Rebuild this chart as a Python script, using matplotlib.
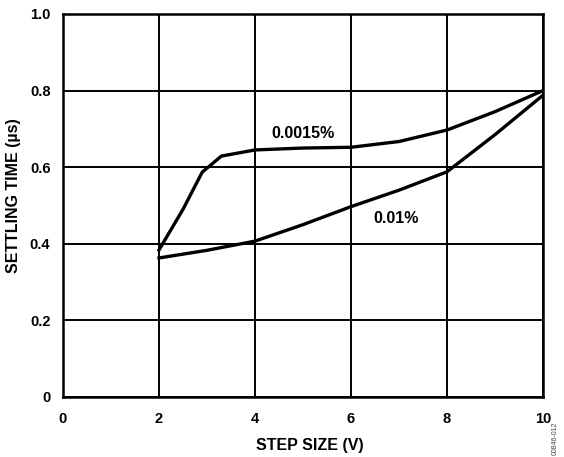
import matplotlib.pyplot as plt
import numpy as np

plt.rcParams['font.family'] = ['Liberation Sans', 'DejaVu Sans']
plt.rcParams['font.weight'] = 'bold'

# 0.0015% curve
x_fine = [2.0, 2.5, 2.9, 3.3, 4.0, 5.0, 6.0, 7.0, 8.0, 9.0, 10.0]
y_fine = [0.384, 0.49, 0.587, 0.629, 0.645, 0.650, 0.652, 0.667, 0.697, 0.745, 0.80]

# 0.01% curve
x_coarse = [2.0, 3.0, 4.0, 5.0, 6.0, 7.0, 8.0, 9.0, 10.0]
y_coarse = [0.363, 0.383, 0.407, 0.450, 0.497, 0.540, 0.588, 0.685, 0.788]

xticks = [0, 2, 4, 6, 8, 10]
yticks = [0, 0.2, 0.4, 0.6, 0.8, 1.0]

fig = plt.figure(figsize=(5.64, 4.57), dpi=100)
ax = fig.add_axes([0.1117, 0.1313, 0.8511, 0.8381])

ax.plot(x_fine, y_fine, color='black', lw=2.4, solid_joinstyle='round')
ax.plot(x_coarse, y_coarse, color='black', lw=2.4, solid_joinstyle='round')

ax.text(4.99, 0.689, '0.0015%', ha='center', va='center', fontsize=11.5, fontweight='bold')
ax.text(6.94, 0.467, '0.01%', ha='center', va='center', fontsize=11.5, fontweight='bold')

ax.set_xlim(0, 10)
ax.set_ylim(0, 1.0)
ax.set_xticks(xticks)
ax.set_yticks(yticks)
ax.set_xticklabels([str(t) for t in xticks], fontsize=10.5, fontweight='bold')
ax.set_yticklabels(['0'] + ['%.1f' % t for t in yticks[1:]], fontsize=10.5, fontweight='bold')
ax.tick_params(length=0)
ax.tick_params(axis='x', pad=11)
ax.tick_params(axis='y', pad=9)
ax.grid(True, color='black', lw=1.4)
for s in ax.spines.values():
    s.set_linewidth(1.8)

ax.set_xlabel('STEP SIZE (V)', fontsize=11.5, fontweight='bold', va='top')
ax.xaxis.set_label_coords(0.515, -0.108)
ax.set_ylabel('SETTLING TIME (µs)', fontsize=11.5, fontweight='bold')
ax.yaxis.set_label_coords(-0.088, 0.525)

fig.text(0.984, 0.005, '00846-012', rotation=90, fontsize=5, color='#444444',
         ha='center', va='bottom', fontweight='normal')

fig.savefig('out.png', dpi=100)
